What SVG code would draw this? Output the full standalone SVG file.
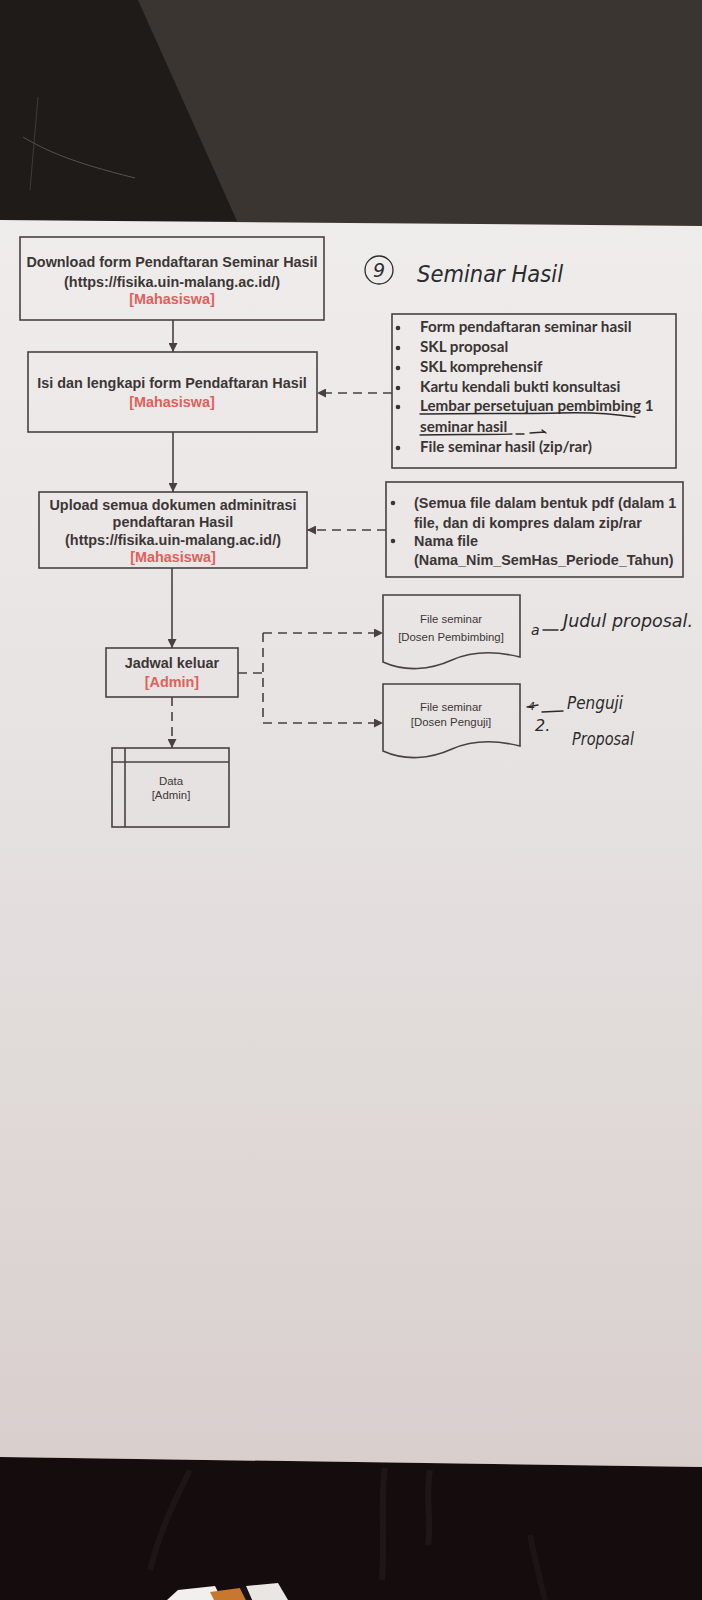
<svg xmlns="http://www.w3.org/2000/svg" width="702" height="1600" viewBox="0 0 702 1600">
  <defs>
    <linearGradient id="paper" x1="0" y1="0" x2="0" y2="1">
      <stop offset="0" stop-color="#efedec"/>
      <stop offset="0.45" stop-color="#e6e2e1"/>
      <stop offset="1" stop-color="#d8cfcd"/>
    </linearGradient>
    <marker id="arrow" viewBox="0 0 10 10" refX="10" refY="5" markerWidth="9" markerHeight="9" markerUnits="userSpaceOnUse" orient="auto">
      <path d="M0,0 L10,5 L0,10 Z" fill="#4a4040"/>
    </marker>
    <style>
      .box { fill: none; stroke: #4a4040; stroke-width: 1.6; }
      .line { fill: none; stroke: #4a4040; stroke-width: 1.6; }
      .dash { fill: none; stroke: #4a4040; stroke-width: 1.6; stroke-dasharray: 9 6; }
      .t { font-family: "Liberation Sans", Arial, sans-serif; font-weight: bold; font-size: 14.4px; fill: #3d3636; text-anchor: middle; }
      .r { fill: #e0605a; }
      .s { font-family: "Liberation Sans", Arial, sans-serif; font-size: 11.4px; fill: #3d3636; text-anchor: middle; }
      .li { font-family: Lato, "Open Sans", sans-serif; font-weight: bold; font-size: 15.2px; fill: #3a3434; }
      .la { font-family: "Liberation Sans", Arial, sans-serif; font-weight: bold; font-size: 14.4px; fill: #3d3636; }
      .hand { font-family: "DejaVu Sans", sans-serif; font-style: italic; font-weight: 200; fill: #2b2a2c; }
      .ink { fill: none; stroke: #2b2a2c; stroke-width: 1.3; stroke-linecap: round; }
    </style>
  </defs>

  <!-- backdrop above the sheet -->
  <rect x="0" y="0" width="702" height="228" fill="#3a3531"/>
  <polygon points="0,0 138,0 237,221 0,221" fill="#1f1b19"/>
  <path d="M23,137 C45,150 70,162 135,178" stroke="#57524e" stroke-width="1" fill="none"/>
  <path d="M38,97 L30,190" stroke="#47423f" stroke-width="0.8" fill="none"/>

  <!-- sheet of paper -->
  <polygon points="0,220 702,226 702,1467 0,1457" fill="url(#paper)"/>

  <!-- surface below the sheet -->
  <polygon points="0,1457 702,1467 702,1600 0,1600" fill="#150d0d"/>
  <path d="M190,1470 C175,1500 160,1530 150,1570" stroke="#221a1a" stroke-width="6" fill="none" opacity="0.7"/>
  <path d="M385,1468 C380,1500 385,1540 382,1580" stroke="#231b1b" stroke-width="6" fill="none" opacity="0.7"/>
  <path d="M430,1470 C425,1500 432,1520 428,1545" stroke="#231b1b" stroke-width="6" fill="none" opacity="0.7"/>
  <path d="M530,1535 C535,1560 540,1580 545,1600" stroke="#221a1a" stroke-width="6" fill="none" opacity="0.6"/>
  <path d="M167,1600 L178,1590 L215,1586 L222,1600 Z" fill="#f2f0ee"/>
  <path d="M210,1592 L240,1588 L246,1600 L214,1600 Z" fill="#c8772e"/>
  <path d="M246,1586 L278,1583 L288,1600 L252,1600 Z" fill="#e9e6e4"/>
  <path d="M240,1588 L246,1587 L252,1600 L246,1600 Z" fill="#1a1414"/>

  <!-- connectors -->
  <g id="connectors">
    <line class="line" x1="173" y1="320" x2="173" y2="352" marker-end="url(#arrow)"/>
    <line class="line" x1="173" y1="432" x2="173" y2="492" marker-end="url(#arrow)"/>
    <line class="line" x1="172" y1="568" x2="172" y2="648" marker-end="url(#arrow)"/>
    <line class="dash" x1="172" y1="697" x2="172" y2="748" marker-end="url(#arrow)"/>
    <line class="dash" x1="392" y1="393" x2="317" y2="393" marker-end="url(#arrow)"/>
    <line class="dash" x1="386" y1="530" x2="307" y2="530" marker-end="url(#arrow)"/>
    <line class="dash" x1="238" y1="673" x2="263" y2="673"/>
    <line class="dash" x1="263" y1="633" x2="263" y2="723"/>
    <line class="dash" x1="263" y1="633" x2="383" y2="633" marker-end="url(#arrow)"/>
    <line class="dash" x1="263" y1="723" x2="383" y2="723" marker-end="url(#arrow)"/>
  </g>

  <!-- step 1 -->
  <g id="download-form">
    <rect class="box" x="20" y="237" width="304" height="83"/>
    <text class="t" x="172" y="267">Download form Pendaftaran Seminar Hasil</text>
    <text class="t" x="172" y="287">(https://fisika.uin-malang.ac.id/)</text>
    <text class="t r" x="172" y="304">[Mahasiswa]</text>
  </g>

  <!-- step 2 -->
  <g id="isi-form">
    <rect class="box" x="28" y="352" width="289" height="80"/>
    <text class="t" x="172" y="388">Isi dan lengkapi form Pendaftaran Hasil</text>
    <text class="t r" x="172" y="407">[Mahasiswa]</text>
  </g>

  <!-- step 3 -->
  <g id="upload-dokumen">
    <rect class="box" x="39" y="492" width="268" height="76"/>
    <text class="t" x="173" y="510">Upload semua dokumen adminitrasi</text>
    <text class="t" x="173" y="527">pendaftaran Hasil</text>
    <text class="t" x="173" y="545">(https://fisika.uin-malang.ac.id/)</text>
    <text class="t r" x="173" y="562">[Mahasiswa]</text>
  </g>

  <!-- step 4 -->
  <g id="jadwal-keluar">
    <rect class="box" x="106" y="648" width="132" height="49"/>
    <text class="t" x="172" y="668">Jadwal keluar</text>
    <text class="t r" x="172" y="687">[Admin]</text>
  </g>

  <!-- stored data -->
  <g id="data-admin">
    <rect class="box" x="112" y="748" width="117" height="79"/>
    <line class="line" x1="112" y1="762" x2="229" y2="762"/>
    <line class="line" x1="125" y1="748" x2="125" y2="827"/>
    <text class="s" x="171" y="785">Data</text>
    <text class="s r" x="171" y="799">[Admin]</text>
  </g>

  <!-- document checklist -->
  <g id="syarat-berkas">
    <rect class="box" x="392" y="314" width="284" height="154"/>
    <g fill="#3a3434">
      <circle cx="398" cy="328" r="2.3"/>
      <circle cx="398" cy="348" r="2.3"/>
      <circle cx="398" cy="368" r="2.3"/>
      <circle cx="398" cy="388" r="2.3"/>
      <circle cx="398" cy="407" r="2.3"/>
      <circle cx="398" cy="448" r="2.3"/>
    </g>
    <text class="li" x="420" y="332">Form pendaftaran seminar hasil</text>
    <text class="li" x="420" y="352">SKL proposal</text>
    <text class="li" x="420" y="372">SKL komprehensif</text>
    <text class="li" x="420" y="392">Kartu kendali bukti konsultasi</text>
    <text class="li" x="420" y="411">Lembar persetujuan pembimbing 1</text>
    <text class="li" x="420" y="432">seminar hasil</text>
    <text class="li" x="420" y="452">File seminar hasil (zip/rar)</text>
    <!-- pen underlines -->
    <path class="ink" d="M420,414 C470,413 520,414 560,413 C590,412 615,414 635,417"/>
    <path class="ink" d="M420,435 C450,434 480,435 512,434"/>
    <path class="ink" d="M516,434 L524,434"/>
    <path class="ink" d="M530,433 L545,432 M542,430 L546,433"/>
  </g>

  <!-- upload notes -->
  <g id="catatan-upload">
    <rect class="box" x="386" y="482" width="297" height="95"/>
    <g fill="#3d3636">
      <circle cx="393" cy="503" r="2.3"/>
      <circle cx="393" cy="541" r="2.3"/>
    </g>
    <text class="la" x="414" y="508">(Semua file dalam bentuk pdf (dalam 1</text>
    <text class="la" x="414" y="528">file, dan di kompres dalam zip/rar</text>
    <text class="la" x="414" y="546">Nama file</text>
    <text class="la" x="414" y="565">(Nama_Nim_SemHas_Periode_Tahun)</text>
  </g>

  <!-- document for supervisor -->
  <g id="file-pembimbing">
    <path class="box" d="M383,595 H520 V657 C500,652 475,650 452,660 C430,670 405,672 383,662 Z"/>
    <text class="s" x="451" y="623">File seminar</text>
    <text class="s r" x="451" y="641">[Dosen Pembimbing]</text>
  </g>

  <!-- document for examiner -->
  <g id="file-penguji">
    <path class="box" d="M383,684 H520 V746 C500,741 475,739 452,749 C430,759 405,761 383,751 Z"/>
    <text class="s" x="451" y="711">File seminar</text>
    <text class="s r" x="451" y="726">[Dosen Penguji]</text>
  </g>

  <!-- pen notes -->
  <g id="catatan-tangan">
    <circle class="ink" cx="379" cy="270" r="14"/>
    <text class="hand" x="373" y="277" font-size="19">9</text>
    <text class="hand" x="417" y="282" font-size="23" textLength="146" lengthAdjust="spacingAndGlyphs">Seminar Hasil</text>
    <text class="hand" x="531" y="635" font-size="14">a</text>
    <path class="ink" d="M543,630 L558,630"/>
    <text class="hand" x="563" y="627" font-size="17" textLength="130" lengthAdjust="spacingAndGlyphs">Judul proposal.</text>
    <text class="hand" x="528" y="710" font-size="11">4</text>
    <path class="ink" d="M527,707 L538,705"/>
    <path class="ink" d="M542,712 L563,711"/>
    <text class="hand" x="535" y="731" font-size="16">2.</text>
    <text class="hand" x="567" y="709" font-size="17" textLength="56" lengthAdjust="spacingAndGlyphs">Penguji</text>
    <text class="hand" x="572" y="745" font-size="17" textLength="62" lengthAdjust="spacingAndGlyphs">Proposal</text>
  </g>
</svg>
